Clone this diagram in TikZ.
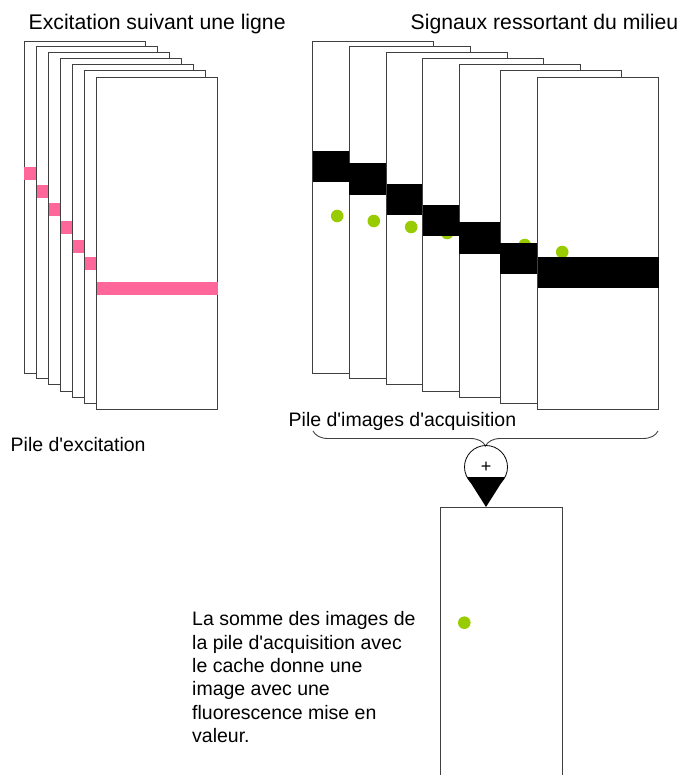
\documentclass[tikz,border=0pt]{standalone}
\usepackage{fontspec}
\setmainfont{Liberation Sans}[Ligatures=TeXOff]
\usepackage{tikz}
\usetikzlibrary{positioning,decorations.pathreplacing}

\definecolor{rose}{RGB}{255,102,153}
\definecolor{vert}{RGB}{153,204,0}
\definecolor{trait}{RGB}{64,64,64}

\begin{document}
\begin{tikzpicture}[x=1pt,y=-1pt]

\tikzset{feuille/.style={draw=trait, fill=white, line width=1pt},
bande/.style={fill=black},
point/.style={fill=vert},
legende/.style={inner sep=0pt, font=\fontsize{19.5}{23.3}\selectfont},
titre/.style={inner sep=0pt, font=\fontsize{21.2}{24}\selectfont},
accolade/.style={draw=trait, line width=0.9pt, decorate, decoration={brace, mirror, amplitude=15pt}}}

\useasboundingbox (0,0) rectangle (681,775);

% pile d'excitation
\foreach \g/\h/\b/\r in {24.3/42/373/167, 36.5/47/378/185, 48.5/53/384.5/203, 60.5/59/391.5/221, 72.5/65/397/240, 84.5/71/403.5/257, 96.5/78/409/282}
{
  \draw[feuille] (\g,\h) rectangle (\g+121,\b);
  \fill[rose] (\g,\r) rectangle (\g+121,\r+12.6);
}

% pile d'acquisition
\foreach \g/\h/\b/\n in {312.7/42/373/150.7, 349.3/47/378/163.3, 386.7/53/384.5/184, 422.7/59/391.5/205, 459/65/397/222.3, 500.3/71/403.5/242.7, 537.7/78/409/256.7}
{
  \draw[feuille] (\g,\h) rectangle (\g+121,\b);
  \fill[point] (\g+24.5,\h+174) circle (6.3);
  \fill[bande] (\g,\n) rectangle (\g+121,\n+31.5);
}

\node[titre, anchor=base west] (titreExc) at (28.5,30) {Excitation suivant une ligne};
\node[titre, anchor=base west] (titreSig) at (410.5,30) {Signaux ressortant du milieu};
\node[legende, anchor=base west] (pileExc) at (10.5,451.7) {Pile d'excitation};
\node[legende, anchor=base west] (pileAcq) at (288.5,426.5) {Pile d'images d'acquisition};

\coordinate (acqG) at (313,431);
\coordinate (acqD) at (658,431);
\draw[accolade] (acqG) -- (acqD);

%la somme
\node[circle, draw, line width=0.8pt, minimum size=43pt, inner sep=0pt, font=\fontsize{18}{18}\selectfont] (somme) at (486,467) {+};
\coordinate (cadre) at (486,507);
\fill (467,477) -- (505,477) -- (cadre) -- cycle;

\draw[feuille, fill=none] (440,776) -- (440,507) -- (562,507) -- (562,776);
\fill[point] (464.3,622.7) circle (6.3);

\node[legende, anchor=north west, align=left] (texteSomme) at (192,611.5) {La somme des images de\\la pile d'acquisition avec\\le cache donne une\\image avec une\\fluorescence mise en\\valeur.};

\end{tikzpicture}
\end{document}
